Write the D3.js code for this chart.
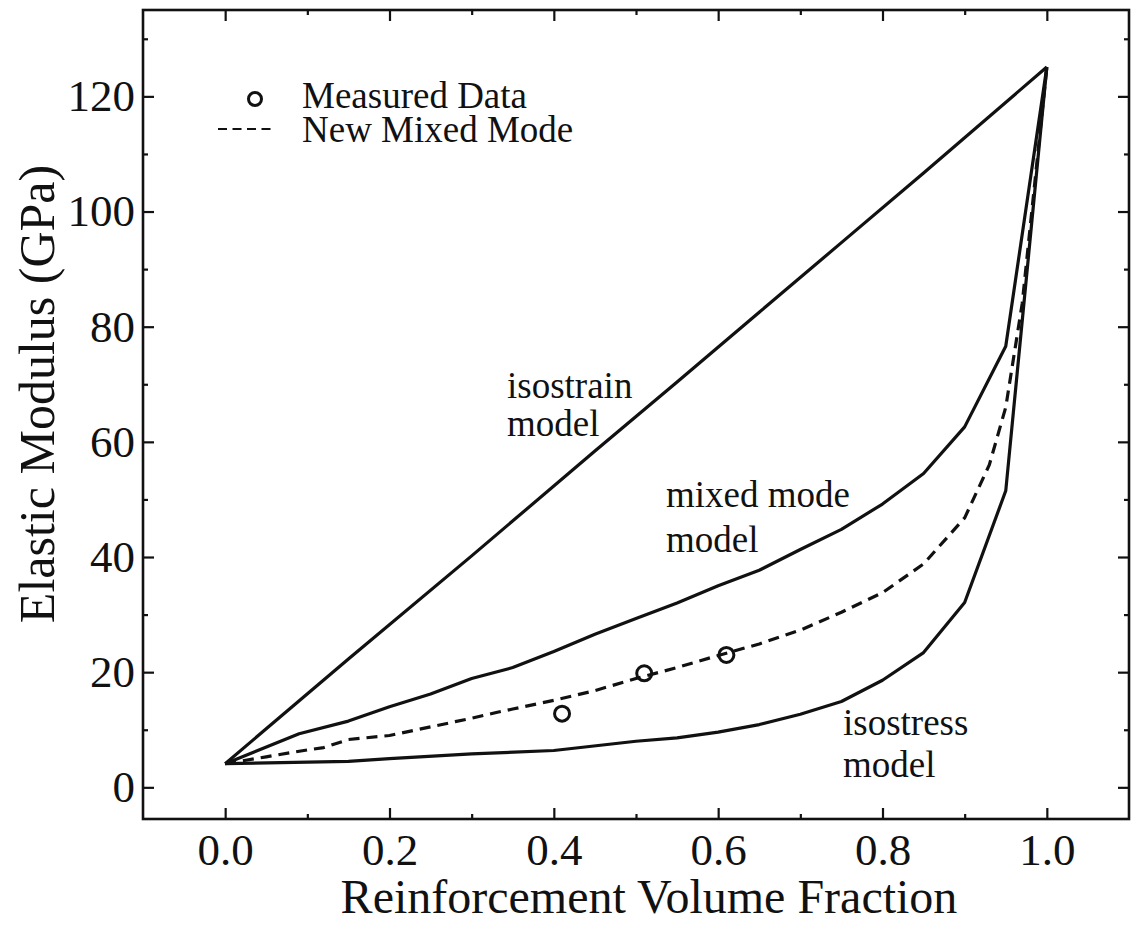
<!DOCTYPE html>
<html>
<head>
<meta charset="utf-8">
<script src="https://cdn.jsdelivr.net/npm/d3@7"></script>
<style>
  html, body { margin: 0; padding: 0; background: #fff; }
  svg { display: block; }
  text { font-family: "Liberation Serif", "Times New Roman", serif; fill: #111; }
</style>
</head>
<body>
<script>
// Elastic modulus of a two-phase composite vs. reinforcement volume fraction
const isostrainF = [0, 0.15, 0.3, 0.45, 0.55, 0.65, 0.75, 0.85, 1.0];
const isostrainE = [4.1, 22.3, 40.2, 58.4, 70.4, 82.5, 94.6, 106.7, 125.1];

const mixedF = [0, 0.09, 0.15, 0.2, 0.25, 0.3, 0.35, 0.4, 0.45, 0.5, 0.55, 0.6, 0.65, 0.7, 0.75, 0.8, 0.85, 0.9, 0.95, 1.0];
const mixedE = [4.1, 9.3, 11.5, 14.0, 16.2, 18.9, 20.8, 23.6, 26.6, 29.3, 32.0, 35.0, 37.7, 41.3, 44.8, 49.2, 54.5, 62.6, 76.6, 125.1];

const newMixedF = [0, 0.05, 0.1, 0.12, 0.15, 0.2, 0.25, 0.28, 0.3, 0.33, 0.35, 0.4, 0.45, 0.5, 0.55, 0.6, 0.65, 0.7, 0.75, 0.8, 0.85, 0.9, 0.93, 0.95, 0.97, 1.0];
const newMixedE = [4.1, 5.3, 6.5, 6.9, 8.3, 9.0, 10.5, 11.4, 12.0, 13.0, 13.6, 15.1, 16.8, 18.9, 20.8, 22.9, 24.9, 27.3, 30.4, 33.8, 38.8, 46.8, 56.0, 66.0, 84.0, 125.1];

const isostressF = [0, 0.15, 0.2, 0.3, 0.4, 0.5, 0.55, 0.6, 0.65, 0.7, 0.75, 0.8, 0.85, 0.9, 0.95, 1.0];
const isostressE = [4.1, 4.5, 5.0, 5.8, 6.4, 8.0, 8.6, 9.6, 10.9, 12.7, 14.9, 18.6, 23.4, 32.1, 51.5, 125.1];

const measuredF = [0.41, 0.51, 0.61];
const measuredE = [12.8, 19.8, 23.0];

const xMajorTicks = [0, 0.2, 0.4, 0.6, 0.8, 1.0];
const xMinorTicks = [0.1, 0.3, 0.5, 0.7, 0.9];
const yMajorTicks = [0, 20, 40, 60, 80, 100, 120];
const yMinorTicks = [10, 30, 50, 70, 90, 110, 130];

const xTitle = "Reinforcement Volume Fraction";
const yTitle = "Elastic Modulus (GPa)";
const legendLabels = ["Measured Data", "New Mixed Mode"];

const W = 1132, H = 931;
const frame = { left: 143, right: 1129, top: 10, bottom: 819 };
const serif = '"Liberation Serif", "Times New Roman", serif';

const svg = d3.select("body").append("svg").attr("width", W).attr("height", H);

const x = d3.scaleLinear().domain([-0.1, 1.1]).range([frame.left, frame.right]);
const y = d3.scaleLinear().domain([-5.5, 135]).range([frame.bottom, frame.top]);

const ink = "#111";
const fmt1 = d3.format(".1f");

// axes: ticks point inward on all four sides
function drawAxis(axisGen, tx, ty) {
  const g = svg.append("g").attr("transform", `translate(${tx},${ty})`).call(axisGen);
  g.select(".domain").remove();
  g.selectAll(".tick line").attr("stroke", ink).attr("stroke-width", 2.2);
  return g;
}

const bottomMajor = drawAxis(d3.axisBottom(x).tickValues(xMajorTicks).tickSizeInner(-11).tickPadding(14).tickFormat(fmt1), 0, frame.bottom);
bottomMajor.selectAll(".tick text").attr("font-size", 45).attr("fill", ink)
  .attr("font-family", serif).attr("dy", "0.71em");
drawAxis(d3.axisBottom(x).tickValues(xMinorTicks).tickSize(-5).tickFormat(""), 0, frame.bottom);
drawAxis(d3.axisTop(x).tickValues(xMajorTicks).tickSize(-11).tickFormat(""), 0, frame.top);
drawAxis(d3.axisTop(x).tickValues(xMinorTicks).tickSize(-5).tickFormat(""), 0, frame.top);

const leftMajor = drawAxis(d3.axisLeft(y).tickValues(yMajorTicks).tickSizeInner(-11).tickPadding(8).tickFormat(d3.format("d")), frame.left, 0);
leftMajor.selectAll(".tick text").attr("font-size", 45).attr("fill", ink).attr("font-family", serif);
drawAxis(d3.axisLeft(y).tickValues(yMinorTicks).tickSize(-5).tickFormat(""), frame.left, 0);
drawAxis(d3.axisRight(y).tickValues(yMajorTicks).tickSize(-11).tickFormat(""), frame.right, 0);
drawAxis(d3.axisRight(y).tickValues(yMinorTicks).tickSize(-5).tickFormat(""), frame.right, 0);

// plot frame
svg.append("rect")
  .attr("x", frame.left).attr("y", frame.top)
  .attr("width", frame.right - frame.left).attr("height", frame.bottom - frame.top)
  .attr("fill", "none").attr("stroke", ink).attr("stroke-width", 2.6);

// model curves
const line = d3.line().x(d => x(d[0])).y(d => y(d[1]));
function series(fs, es) { return fs.map((f, i) => [f, es[i]]); }

const curves = [
  { data: series(isostrainF, isostrainE), dash: null },
  { data: series(mixedF, mixedE), dash: null },
  { data: series(isostressF, isostressE), dash: null },
  { data: series(newMixedF, newMixedE), dash: "11,7" }
];
svg.append("g").selectAll("path").data(curves).join("path")
  .attr("d", d => line(d.data))
  .attr("fill", "none")
  .attr("stroke", ink)
  .attr("stroke-width", 3.2)
  .attr("stroke-linejoin", "round")
  .attr("stroke-dasharray", d => d.dash);

// measured points
svg.append("g").selectAll("circle").data(series(measuredF, measuredE)).join("circle")
  .attr("cx", d => x(d[0])).attr("cy", d => y(d[1]))
  .attr("r", 7.5)
  .attr("fill", "none").attr("stroke", ink).attr("stroke-width", 3);

// curve annotations
const notes = [
  { lines: ["isostrain", "model"], x: 507, y: 398, gap: 38 },
  { lines: ["mixed mode", "model"], x: 666, y: 507, gap: 45 },
  { lines: ["isostress", "model"], x: 843, y: 735, gap: 42 }
];
notes.forEach(n => {
  n.lines.forEach((t, i) => {
    svg.append("text").attr("x", n.x).attr("y", n.y + i * n.gap)
      .attr("font-size", 37).text(t);
  });
});

// legend
const legend = svg.append("g");
legend.append("circle").attr("cx", 255).attr("cy", 99).attr("r", 6.5)
  .attr("fill", "none").attr("stroke", ink).attr("stroke-width", 3);
legend.append("line").attr("x1", 218).attr("x2", 273).attr("y1", 129).attr("y2", 129)
  .attr("stroke", ink).attr("stroke-width", 2.2).attr("stroke-dasharray", "9,5.5");
legend.selectAll("text.lg").data(legendLabels).join("text")
  .attr("class", "lg")
  .attr("x", 302).attr("y", (d, i) => 108 + i * 34)
  .attr("font-size", 37).text(d => d);

// axis titles
svg.append("text").attr("x", 649).attr("y", 913)
  .attr("text-anchor", "middle").attr("font-size", 48).text(xTitle);
svg.append("text")
  .attr("transform", "translate(54, 394) rotate(-90)")
  .attr("text-anchor", "middle").attr("font-size", 50).text(yTitle);
</script>
</body>
</html>
